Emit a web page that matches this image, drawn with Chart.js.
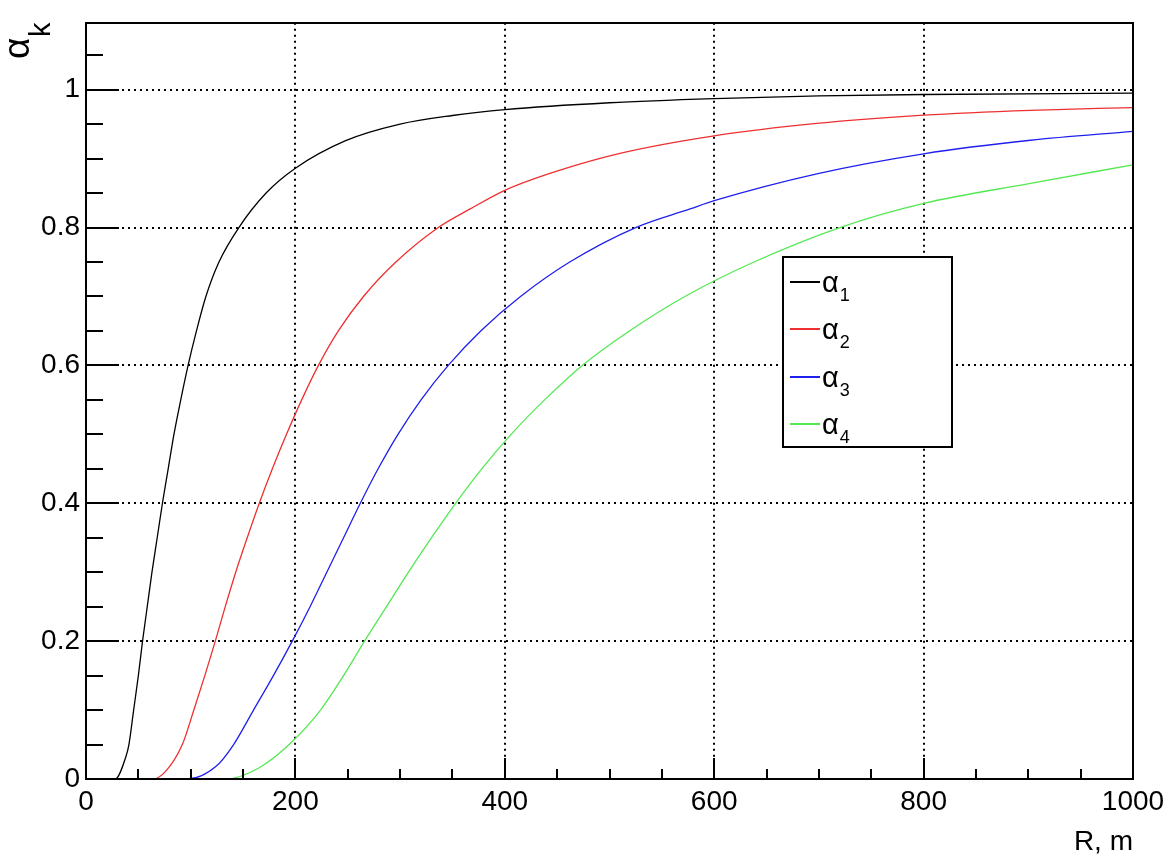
<!DOCTYPE html>
<html>
<head>
<meta charset="utf-8">
<script src="https://cdn.jsdelivr.net/npm/chart.js@4.4.0/dist/chart.umd.min.js"></script>
<style>
  html, body { margin: 0; padding: 0; background: #fff; }
  #wrap { width: 1176px; height: 866px; }
</style>
</head>
<body>
<div id="wrap"><canvas id="chart" width="1176" height="866"></canvas></div>
<script>
// ---- data (R in m, alpha_k) ----
const R1 = [0, 28, 38, 41, 45.5, 50, 54, 58.5, 63, 68, 73, 78.5, 84, 90.5, 97.5, 105.5, 114.5, 127, 146, 172, 200, 248, 300, 350, 400, 500, 600, 700, 800, 1000];
const A1 = [0, 0, 0.032, 0.05, 0.1, 0.15, 0.2, 0.25, 0.3, 0.35, 0.4, 0.45, 0.5, 0.55, 0.6, 0.65, 0.7, 0.75, 0.8, 0.85, 0.886, 0.926, 0.95, 0.9625, 0.971, 0.981, 0.987, 0.991, 0.993, 0.995];

const R2 = [0, 64, 76, 92, 103, 113.5, 123.5, 133, 143, 154, 165.5, 178, 191.5, 206, 222, 241, 265, 296, 336.5, 367, 400, 446, 510, 600, 698, 800, 902, 1000];
const A2 = [0, 0, 0.011, 0.05, 0.1, 0.15, 0.2, 0.25, 0.3, 0.35, 0.4, 0.45, 0.5, 0.55, 0.6, 0.65, 0.7, 0.75, 0.8, 0.827, 0.854, 0.88, 0.9076, 0.933, 0.951, 0.963, 0.970, 0.974];

const R3 = [0, 97, 124, 141, 160, 179, 197, 214, 230, 246, 262, 279, 298, 320, 346, 377, 415, 462, 525, 577, 600, 698, 800, 902, 1000];
const A3 = [0, 0, 0.018, 0.05, 0.1, 0.15, 0.2, 0.25, 0.3, 0.35, 0.4, 0.45, 0.5, 0.55, 0.6, 0.65, 0.7, 0.75, 0.8, 0.827, 0.839, 0.878, 0.907, 0.9266, 0.9396];

const R4 = [0, 134, 165, 194, 224, 246, 266, 287, 308, 330, 353, 378, 406, 438, 474, 519, 572, 638, 720, 800, 902, 1000];
const A4 = [0, 0, 0.016, 0.05, 0.1, 0.15, 0.2, 0.25, 0.3, 0.35, 0.4, 0.45, 0.5, 0.55, 0.6, 0.65, 0.7, 0.75, 0.8, 0.835, 0.864, 0.891];

const seriesLabels = ['1', '2', '3', '4'];
const seriesColors = ['#000000', '#ee3030', '#2020ee', '#55e855'];

const xTicks = [0, 200, 400, 600, 800, 1000];
const yTicks = [0, 0.2, 0.4, 0.6, 0.8, 1];
const X_MAX = 1000;
const Y_MAX = 1.097;

const FONT = '"Liberation Sans", Arial, Helvetica, sans-serif';

const toPoints = (r, a) => r.map((x, i) => ({ x, y: a[i] }));
const curves = [toPoints(R1, A1), toPoints(R2, A2), toPoints(R3, A3), toPoints(R4, A4)];

// ---- ROOT-like frame: dotted grid, inward ticks, legend, titles ----
const rootFrame = {
  id: 'rootFrame',
  beforeDatasetsDraw(chart) {
    const { ctx, chartArea: a, scales: { x, y } } = chart;
    ctx.save();
    ctx.strokeStyle = '#000';
    ctx.lineWidth = 2;
    ctx.setLineDash([2, 4]);
    ctx.beginPath();
    xTicks.forEach((v) => {
      if (v === 0) return;
      const px = Math.round(x.getPixelForValue(v));
      ctx.moveTo(px, a.top);
      ctx.lineTo(px, a.bottom);
    });
    yTicks.forEach((v) => {
      if (v === 0) return;
      const py = Math.round(y.getPixelForValue(v));
      ctx.moveTo(a.left, py);
      ctx.lineTo(a.right, py);
    });
    ctx.stroke();
    ctx.restore();
  },
  afterDatasetsDraw(chart) {
    const { ctx, chartArea: a, scales: { x, y } } = chart;
    ctx.save();
    ctx.strokeStyle = '#000';
    ctx.lineWidth = 2;
    ctx.beginPath();
    // x ticks every 50, major every 200
    for (let i = 0; i * 50 <= X_MAX; i++) {
      const px = Math.round(x.getPixelForValue(i * 50));
      const len = i % 4 === 0 ? 21 : 10;
      ctx.moveTo(px, a.bottom);
      ctx.lineTo(px, a.bottom - len);
    }
    // y ticks every 0.05, major every 0.2
    for (let i = 0; i * 0.05 <= Y_MAX; i++) {
      const py = Math.round(y.getPixelForValue(i * 0.05));
      const len = i % 4 === 0 ? 33 : 17;
      ctx.moveTo(a.left, py);
      ctx.lineTo(a.left + len, py);
    }
    ctx.stroke();
    // frame
    ctx.strokeRect(Math.round(a.left), Math.round(a.top), Math.round(a.right - a.left), Math.round(a.bottom - a.top));

    // legend
    const lx = 783, ly = 257, lw = 169, lh = 190;
    ctx.fillStyle = '#fff';
    ctx.fillRect(lx, ly, lw, lh);
    ctx.strokeRect(lx, ly, lw, lh);
    seriesLabels.forEach((lab, i) => {
      const ey = Math.round(282 + i * 47.3);
      ctx.strokeStyle = seriesColors[i];
      ctx.lineWidth = 2;
      ctx.beginPath();
      ctx.moveTo(790, ey);
      ctx.lineTo(820, ey);
      ctx.stroke();
      ctx.fillStyle = '#000';
      ctx.textAlign = 'left';
      ctx.textBaseline = 'alphabetic';
      ctx.font = '29px ' + FONT;
      ctx.fillText('α', 822, ey + 10);
      const w = ctx.measureText('α').width;
      ctx.font = '18px ' + FONT;
      ctx.fillText(lab, 822 + w + 1, ey + 19);
    });

    // x title
    ctx.fillStyle = '#000';
    ctx.font = '28px ' + FONT;
    ctx.textAlign = 'right';
    ctx.fillText('R, m', Math.round(a.right), 850);

    // y title (rotated alpha_k)
    ctx.translate(29, 59);
    ctx.rotate(-Math.PI / 2);
    ctx.textAlign = 'left';
    ctx.font = '37px ' + FONT;
    ctx.fillText('α', 0, 0);
    ctx.font = '29px ' + FONT;
    ctx.fillText('k', 22, 21);
    ctx.restore();
  }
};

new Chart(document.getElementById('chart'), {
  type: 'scatter',
  data: {
    datasets: curves.map((pts, i) => ({
      label: 'α' + seriesLabels[i],
      data: pts,
      showLine: true,
      borderColor: seriesColors[i],
      backgroundColor: seriesColors[i],
      borderWidth: 1.3,
      pointRadius: 0,
      cubicInterpolationMode: 'monotone',
      order: 3 - i
    }))
  },
  options: {
    responsive: false,
    devicePixelRatio: 1,
    animation: false,
    layout: { padding: { top: 19, right: 43, left: 0, bottom: 0 } },
    plugins: { legend: { display: false }, tooltip: { enabled: false } },
    scales: {
      x: {
        type: 'linear',
        min: 0,
        max: X_MAX,
        afterBuildTicks: (s) => { s.ticks = xTicks.map((v) => ({ value: v })); },
        afterFit: (s) => { s.height = 87; },
        grid: { display: false, drawTicks: false },
        border: { display: false },
        ticks: {
          autoSkip: false,
          maxRotation: 0,
          padding: 6,
          color: '#000',
          font: { family: FONT, size: 28 },
          callback: (v) => String(v)
        }
      },
      y: {
        type: 'linear',
        min: 0,
        max: Y_MAX,
        afterBuildTicks: (s) => { s.ticks = yTicks.map((v) => ({ value: v })); },
        afterFit: (s) => { s.width = 86; },
        grid: { display: false, drawTicks: false },
        border: { display: false },
        ticks: {
          autoSkip: false,
          padding: 6,
          color: '#000',
          font: { family: FONT, size: 28 },
          callback: (v) => String(Math.round(v * 10) / 10)
        }
      }
    }
  },
  plugins: [rootFrame]
});
</script>
</body>
</html>
